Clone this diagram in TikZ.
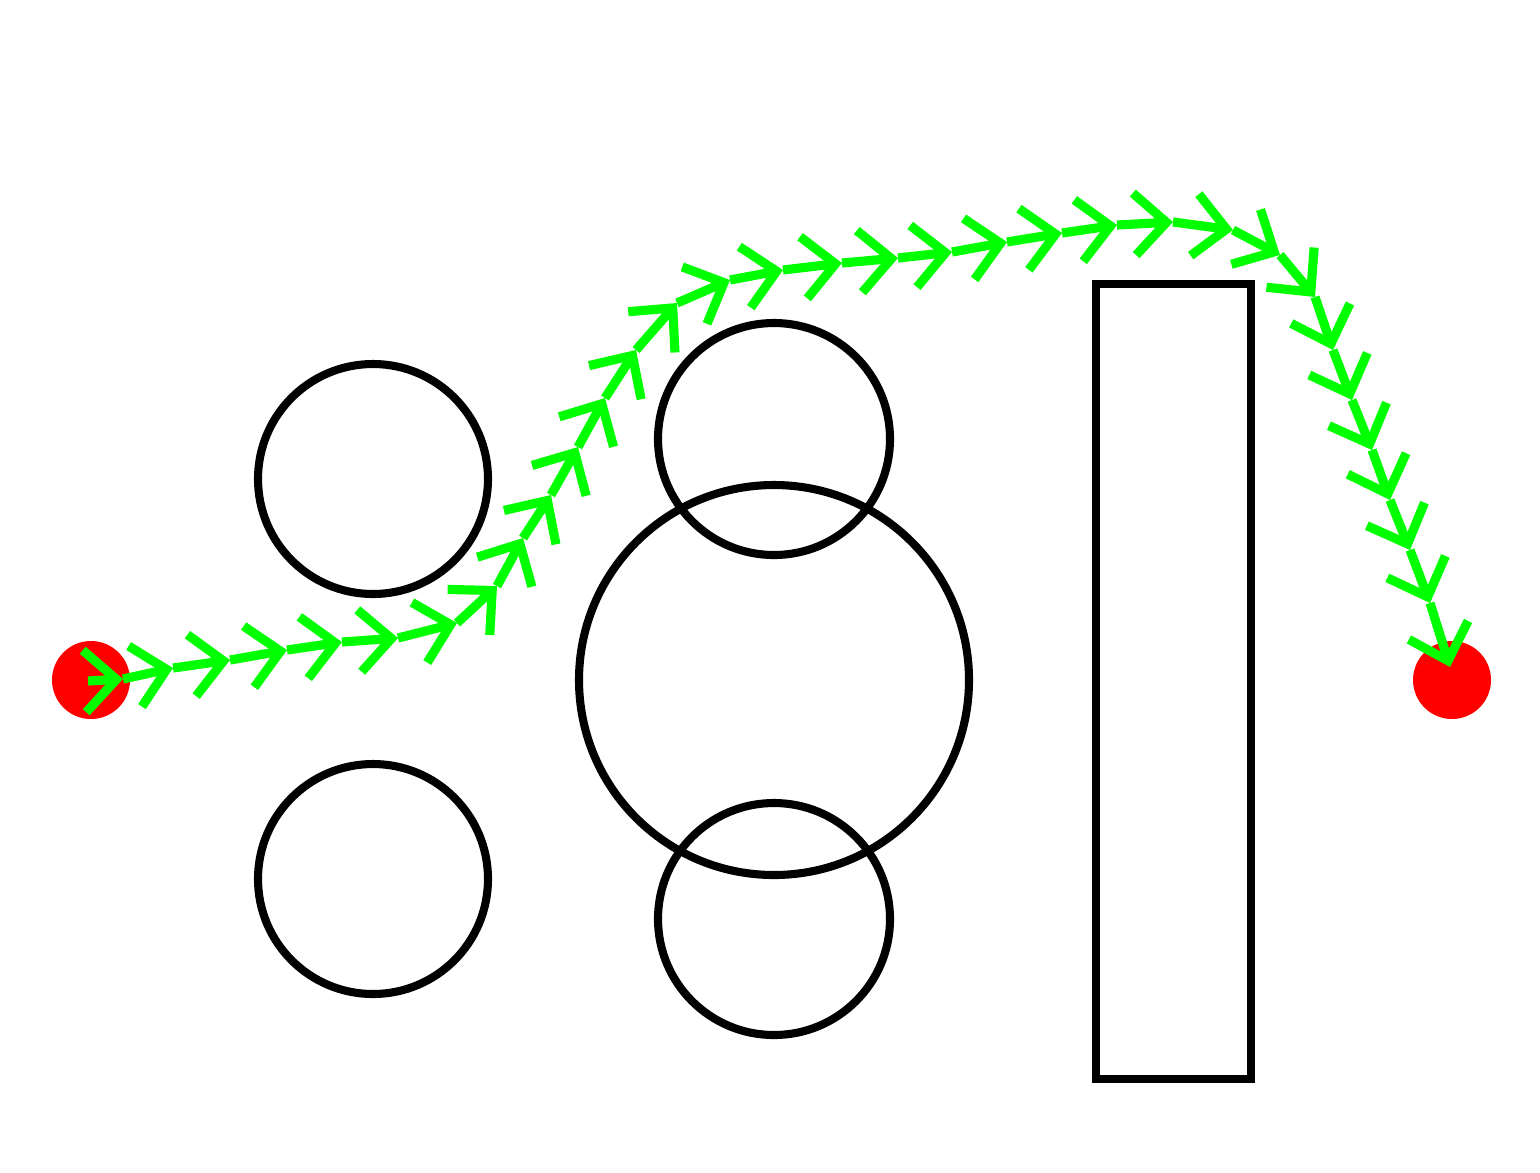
\documentclass[tikz,border=0pt]{standalone}
\usetikzlibrary{arrows.meta}
\definecolor{pgreen}{RGB}{0,255,0}
\definecolor{pred}{RGB}{255,0,0}
\tikzset{
  obst/.style={draw=black, line width=2.3pt},
  goalpt/.style={fill=pred, draw=none},
  quiv/.style={draw=pgreen, line width=2.6pt, -{Straight Barb[length=0.32cm, width=0.62cm]}},
}
\begin{document}
\begin{tikzpicture}[x=0.01cm, y=-0.01cm]
\useasboundingbox (0,0) rectangle (1540,1172);
% obstacles
\draw[obst] (373,479) circle (115);
\draw[obst] (373,879) circle (115);
\draw[obst] (774,439) circle (116);
\draw[obst] (774,680) circle (195);
\draw[obst] (774,919) circle (116);
\draw[obst] (1096,284) rectangle (1251,1079);
% start and goal
\fill[goalpt] (91,680) circle (39);
\fill[goalpt] (1452,680) circle (39);
% path points
\foreach \i/\px/\py in {
 0/88/681, 1/123/679, 2/173/668, 3/230/660, 4/287/650, 5/342/642,
 6/398/638, 7/457/623, 8/497/586, 9/523/538, 10/551/495, 11/578/447,
 12/605/398, 13/636/350, 14/677/303, 15/730/280, 16/783/270, 17/842/263,
 18/898/258, 19/952/252, 20/1007/242, 21/1062/233, 22/1117/225, 23/1173/222,
 24/1233/230, 25/1280/255, 26/1315/297, 27/1333/350, 28/1352/400,
 29/1372/450, 30/1390/500, 31/1410/550, 32/1430/603, 33/1450/667}
 {\coordinate (p\i) at (\px,\py);}
\foreach \i [evaluate=\i as \j using int(\i+1)] in {0,...,32}
 {\draw[quiv] (p\i) -- (p\j);}
\end{tikzpicture}
\end{document}
